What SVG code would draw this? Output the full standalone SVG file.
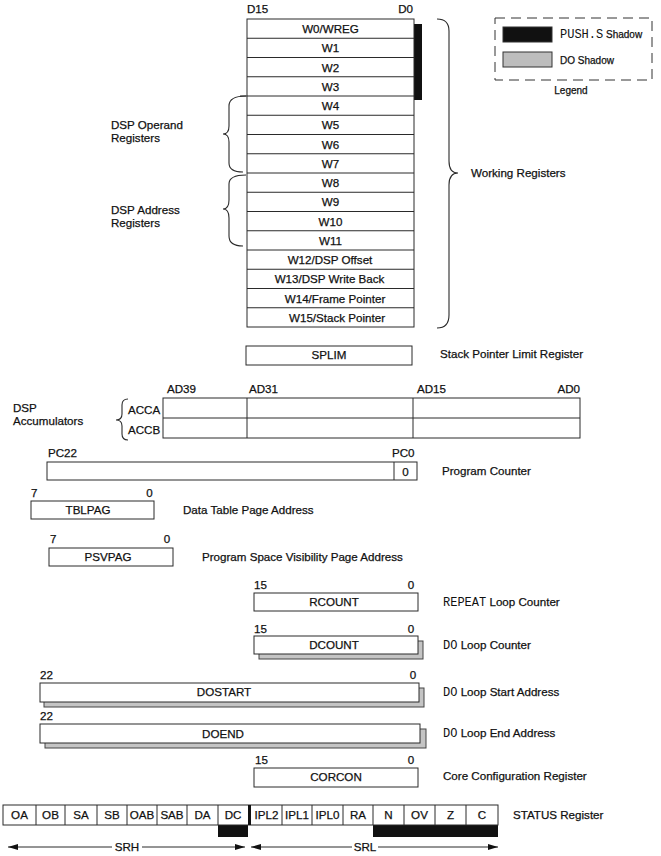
<svg xmlns="http://www.w3.org/2000/svg" width="661" height="856" viewBox="0 0 661 856">
<defs>
<style>
text{font-family:"Liberation Sans",Arial,sans-serif;font-size:11.6px;font-weight:normal;fill:#111;stroke:#111;stroke-width:0.25px}
.mid{text-anchor:middle}
.end{text-anchor:end}
.reg{fill:#fff;stroke:#2a2a2a;stroke-width:1}
.ln{stroke:#2a2a2a;stroke-width:1;fill:none}
.shd{fill:#c4c4c4;stroke:#444;stroke-width:1}
.blk{fill:#111}
.mono{font-family:"Liberation Mono","Courier New",monospace;font-size:12px;stroke-width:0}
.lg{font-size:10px}
.brace{fill:none;stroke:#2a2a2a;stroke-width:1.1}
</style>
<marker id="ah" viewBox="0 0 10 6" refX="10" refY="3" markerWidth="10" markerHeight="6" markerUnits="userSpaceOnUse" orient="auto-start-reverse">
<path d="M0,0 L10,3 L0,6 Z" fill="#111"/>
</marker>
</defs>
<rect width="661" height="856" fill="#fff"/>

<g id="legend">
<rect x="495" y="18" width="157" height="62" fill="none" stroke="#333" stroke-dasharray="10,6"/>
<rect x="503" y="27" width="49" height="15" fill="#111" stroke="#333"/>
<text x="560" y="38"><tspan class="mono">PUSH.S</tspan><tspan class="lg"> Shadow</tspan></text>
<rect x="503" y="52" width="49" height="15" fill="#bdbdbd" stroke="#333"/>
<text x="560" y="64" class="lg">DO Shadow</text>
<text x="571" y="94" class="mid lg">Legend</text>
</g>

<g id="working-registers">
<text x="247" y="13">D15</text>
<text x="413" y="13" class="end">D0</text>
<rect x="414" y="24" width="8" height="76" class="blk"/>
<rect x="247" y="19" width="167" height="308" class="reg"/>
<path class="ln" d="M247,38.25H414M247,57.5H414M247,76.75H414M240,96H414M247,115.25H414M247,134.5H414M247,153.75H414M247,173H414M247,192.25H414M247,211.5H414M247,230.75H414M247,250H414M247,269.25H414M247,288.5H414M247,307.75H414"/>
<text x="330.5" y="33" class="mid">W0/WREG</text>
<text x="330.5" y="52.25" class="mid">W1</text>
<text x="330.5" y="71.5" class="mid">W2</text>
<text x="330.5" y="90.75" class="mid">W3</text>
<text x="330.5" y="110" class="mid">W4</text>
<text x="330.5" y="129.25" class="mid">W5</text>
<text x="330.5" y="148.5" class="mid">W6</text>
<text x="330.5" y="167.75" class="mid">W7</text>
<text x="330.5" y="187" class="mid">W8</text>
<text x="330.5" y="206.25" class="mid">W9</text>
<text x="330.5" y="225.5" class="mid">W10</text>
<text x="330.5" y="244.75" class="mid">W11</text>
<text x="330" y="264" class="mid">W12/DSP Offset</text>
<text x="329.5" y="283.25" class="mid">W13/DSP Write Back</text>
<text x="335" y="302.5" class="mid">W14/Frame Pointer</text>
<text x="337" y="321.75" class="mid">W15/Stack Pointer</text>
<text x="471" y="177">Working Registers</text>
<text x="111" y="129">DSP Operand</text>
<text x="111" y="142">Registers</text>
<text x="111" y="214">DSP Address</text>
<text x="111" y="227">Registers</text>
</g>

<g id="splim">
<rect x="246" y="346" width="166" height="19" class="reg"/>
<text x="329" y="359" class="mid">SPLIM</text>
<text x="440" y="358">Stack Pointer Limit Register</text>
</g>

<g id="accumulators">
<text x="167" y="393">AD39</text>
<text x="249" y="393">AD31</text>
<text x="417" y="393">AD15</text>
<text x="580" y="393" class="end">AD0</text>
<rect x="163" y="398" width="417" height="40" class="reg"/>
<path class="ln" d="M163,418H580M247,398V438M413,398V438"/>
<text x="128" y="414">ACCA</text>
<text x="128" y="434">ACCB</text>
<text x="13" y="412">DSP</text>
<text x="13" y="425">Accumulators</text>
</g>

<g id="program-counter">
<text x="48" y="457">PC22</text>
<text x="392" y="457">PC0</text>
<rect x="47" y="462" width="370" height="18" class="reg"/>
<path class="ln" d="M394,462V480"/>
<text x="405.5" y="476" class="mid">0</text>
<text x="442" y="475">Program Counter</text>
</g>

<g id="tblpag">
<text x="31" y="497">7</text>
<text x="149.5" y="497" class="mid">0</text>
<rect x="31" y="501" width="123" height="18" class="reg"/>
<text x="88" y="514" class="mid">TBLPAG</text>
<text x="183" y="514">Data Table Page Address</text>
</g>

<g id="psvpag">
<text x="50" y="543">7</text>
<text x="167" y="543" class="mid">0</text>
<rect x="49" y="548" width="124" height="18" class="reg"/>
<text x="108" y="561" class="mid">PSVPAG</text>
<text x="202" y="561">Program Space Visibility Page Address</text>
</g>

<g id="rcount">
<text x="254" y="589">15</text>
<text x="411" y="589" class="mid">0</text>
<rect x="254" y="593" width="164" height="18" class="reg"/>
<text x="334" y="606" class="mid">RCOUNT</text>
<text x="443" y="606"><tspan class="mono">REPEAT</tspan> Loop Counter</text>
</g>

<g id="dcount">
<text x="254" y="633">15</text>
<text x="411" y="633" class="mid">0</text>
<rect x="259" y="641" width="164" height="18" class="shd"/>
<rect x="254" y="636" width="164" height="18" class="reg"/>
<text x="334" y="649" class="mid">DCOUNT</text>
<text x="443" y="649"><tspan class="mono">DO</tspan> Loop Counter</text>
</g>

<g id="dostart">
<text x="40" y="679">22</text>
<text x="413" y="679" class="mid">0</text>
<rect x="44" y="688" width="380" height="19" class="shd"/>
<rect x="40" y="683" width="379" height="19" class="reg"/>
<text x="224" y="696" class="mid">DOSTART</text>
<text x="443" y="696"><tspan class="mono">DO</tspan> Loop Start Address</text>
</g>

<g id="doend">
<text x="40" y="720">22</text>
<rect x="45" y="729" width="381" height="19" class="shd"/>
<rect x="40" y="724" width="380" height="19" class="reg"/>
<text x="223" y="738" class="mid">DOEND</text>
<text x="443" y="737"><tspan class="mono">DO</tspan> Loop End Address</text>
</g>

<g id="corcon">
<text x="255" y="764">15</text>
<text x="411" y="764" class="mid">0</text>
<rect x="254" y="768" width="164" height="19" class="reg"/>
<text x="336" y="781" class="mid">CORCON</text>
<text x="443" y="780">Core Configuration Register</text>
</g>

<g id="status-register">
<rect x="218" y="825" width="30" height="12" class="blk"/>
<rect x="373" y="825" width="125" height="12" class="blk"/>
<rect x="3" y="805" width="495" height="20" class="reg"/>
<path class="ln" d="M36,805V825M65,805V825M97,805V825M127,805V825M157,805V825M187,805V825M218,805V825M282,805V825M312,805V825M343,805V825M373,805V825M404,805V825M435,805V825M466,805V825"/>
<rect x="248" y="805" width="3" height="20" class="blk"/>
<text x="19.5" y="819" class="mid">OA</text>
<text x="50.5" y="819" class="mid">OB</text>
<text x="81" y="819" class="mid">SA</text>
<text x="112" y="819" class="mid">SB</text>
<text x="142" y="819" class="mid">OAB</text>
<text x="172" y="819" class="mid">SAB</text>
<text x="202.5" y="819" class="mid">DA</text>
<text x="233" y="819" class="mid">DC</text>
<text x="266.5" y="819" class="mid">IPL2</text>
<text x="297" y="819" class="mid">IPL1</text>
<text x="327.5" y="819" class="mid">IPL0</text>
<text x="358" y="819" class="mid">RA</text>
<text x="388.5" y="819" class="mid">N</text>
<text x="419.5" y="819" class="mid">OV</text>
<text x="450.5" y="819" class="mid">Z</text>
<text x="482" y="819" class="mid">C</text>
<text x="513" y="819">STATUS Register</text>
<text x="127" y="851" class="mid">SRH</text>
<text x="365" y="851" class="mid">SRL</text>
</g>

<g id="connectors">
<path class="brace" d="M437,19 Q449,19 449,31 L449,161 Q449,173 458,173 Q449,173 449,185 L449,315 Q449,328 437,328"/>
<path class="brace" d="M246,96 Q229,96 229,106 L229,126 Q229,134 223,134 Q229,134 229,142 L229,163 Q229,172 243,172"/>
<path class="brace" d="M246,175 Q229,175 229,184 L229,200 Q229,209 223,209 Q229,209 229,218 L229,236 Q229,246 243,246"/>
<path class="brace" d="M128,399 Q122,399 122,405 L122,414 Q122,420 116,420 Q122,420 122,426 L122,434 Q122,440 128,440"/>
<line x1="112" y1="847" x2="8" y2="847" class="ln" marker-end="url(#ah)"/>
<line x1="142" y1="847" x2="245" y2="847" class="ln" marker-end="url(#ah)"/>
<line x1="352" y1="847" x2="251" y2="847" class="ln" marker-end="url(#ah)"/>
<line x1="378" y1="847" x2="498" y2="847" class="ln" marker-end="url(#ah)"/>
</g>
</svg>
